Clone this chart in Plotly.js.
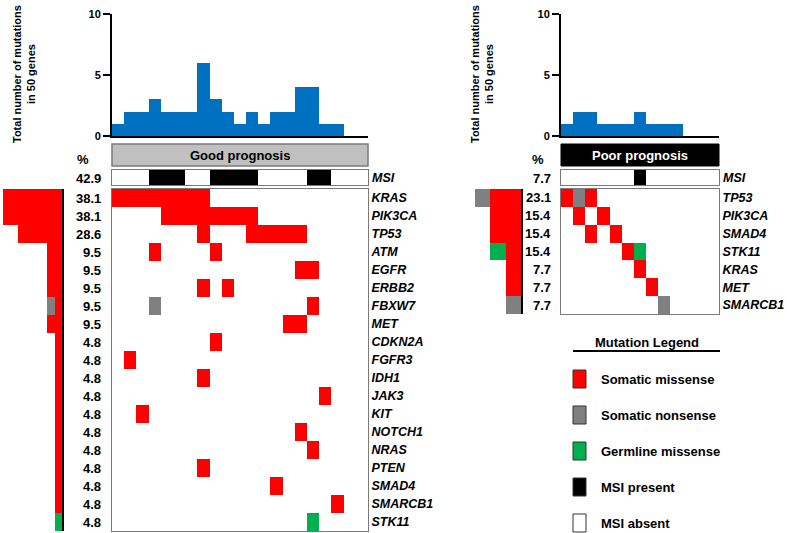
<!DOCTYPE html>
<html>
<head>
<meta charset="utf-8">
<script src="https://cdn.plot.ly/plotly-3.0.1.min.js"></script>
<style>html,body{margin:0;padding:0;background:#fff}</style>
</head>
<body>
<div id="myDiv" style="width:787px;height:533px"></div>
<script>
// ---- data: good prognosis (21 samples) ----
var goodGenes = ['KRAS', 'PIK3CA', 'TP53', 'ATM', 'EGFR', 'ERBB2', 'FBXW7', 'MET', 'CDKN2A', 'FGFR3',
  'IDH1', 'JAK3', 'KIT', 'NOTCH1', 'NRAS', 'PTEN', 'SMAD4', 'SMARCB1', 'STK11'];
var goodPct = [38.1, 38.1, 28.6, 9.5, 9.5, 9.5, 9.5, 9.5, 4.8, 4.8, 4.8, 4.8, 4.8, 4.8, 4.8, 4.8, 4.8, 4.8, 4.8];
// M = somatic missense, N = somatic nonsense, G = germline missense
var goodRows = [
  'MMMMMMMM.............',
  '....MMMMMMMM.........',
  '.......M...MMMMM.....',
  '...M....M............',
  '...............MM....',
  '.......M.M...........',
  '...N............M....',
  '..............MM.....',
  '........M............',
  '.M...................',
  '.......M.............',
  '.................M...',
  '..M..................',
  '...............M.....',
  '................M....',
  '.......M.............',
  '.............M.......',
  '..................M..',
  '................G....'
];
var goodMissense = [8, 8, 6, 2, 2, 2, 1, 2, 1, 1, 1, 1, 1, 1, 1, 1, 1, 1, 0];
var goodNonsense = [0, 0, 0, 0, 0, 0, 1, 0, 0, 0, 0, 0, 0, 0, 0, 0, 0, 0, 0];
var goodGermline = [0, 0, 0, 0, 0, 0, 0, 0, 0, 0, 0, 0, 0, 0, 0, 0, 0, 0, 1];
var goodTotals = [1, 2, 2, 3, 2, 2, 2, 6, 3, 2, 1, 2, 1, 2, 2, 4, 4, 1, 1, 0, 0];
var goodMsi = '...PPP..PPPP....PP...';
var goodMsiPct = 42.9;

// ---- data: poor prognosis (13 samples) ----
var poorGenes = ['TP53', 'PIK3CA', 'SMAD4', 'STK11', 'KRAS', 'MET', 'SMARCB1'];
var poorPct = [23.1, 15.4, 15.4, 15.4, 7.7, 7.7, 7.7];
var poorRows = [
  'MNM..........',
  '.M.M.........',
  '..M.M........',
  '.....MG......',
  '......M......',
  '.......M.....',
  '........N....'
];
var poorMissense = [2, 2, 2, 1, 1, 1, 0];
var poorNonsense = [1, 0, 0, 0, 0, 0, 1];
var poorGermline = [0, 0, 0, 1, 0, 0, 0];
var poorTotals = [1, 2, 2, 1, 1, 1, 2, 1, 1, 1, 0, 0, 0];
var poorMsi = '......P......';
var poorMsiPct = 7.7;

var legendLabels = ['Somatic missense', 'Somatic nonsense', 'Germline missense', 'MSI present', 'MSI absent'];
var legendColors = ['#ff0000', '#808080', '#00b050', '#000000', '#ffffff'];

// ---- helpers ----
var W = 787, H = 533;
var FONT = 'Liberation Sans, Arial, sans-serif';
function fx(px) { return px / W; }
function fy(py) { return 1 - py / H; }
function idx(n) { var a = []; for (var i = 0; i < n; i++) a.push(i); return a; }
function toZ(rows, map) {
  return rows.map(function (r) {
    return r.split('').map(function (c) { return map[c] === undefined ? null : map[c]; });
  });
}
var mutMap = {M: 1, N: 2, G: 3};
var mutScale = [[0, '#ff0000'], [0.33, '#ff0000'], [0.34, '#808080'], [0.66, '#808080'], [0.67, '#00b050'], [1, '#00b050']];

function panelTraces(rows, msi, totals, mis, non, germ, ax) {
  var n = totals.length, g = rows.length;
  return [
    {type: 'bar', x: idx(n), y: totals, width: 1, marker: {color: '#0070c0', line: {width: 0}},
      xaxis: ax.hx, yaxis: ax.hy, hoverinfo: 'skip'},
    {type: 'heatmap', x: idx(n), y: [0], z: toZ([msi], {P: 1}), zmin: 0, zmax: 1,
      colorscale: [[0, '#000'], [1, '#000']], showscale: false, xaxis: ax.sx, yaxis: ax.sy, hoverinfo: 'skip'},
    {type: 'heatmap', x: idx(n), y: idx(g), z: toZ(rows, mutMap), zmin: 1, zmax: 3,
      colorscale: mutScale, showscale: false, xaxis: ax.mx, yaxis: ax.my, hoverinfo: 'skip'},
    {type: 'bar', orientation: 'h', x: mis, y: idx(g), marker: {color: '#ff0000', line: {width: 0}},
      xaxis: ax.bx, yaxis: ax.by, hoverinfo: 'skip'},
    {type: 'bar', orientation: 'h', x: non, y: idx(g), marker: {color: '#808080', line: {width: 0}},
      xaxis: ax.bx, yaxis: ax.by, hoverinfo: 'skip'},
    {type: 'bar', orientation: 'h', x: germ, y: idx(g), marker: {color: '#00b050', line: {width: 0}},
      xaxis: ax.bx, yaxis: ax.by, hoverinfo: 'skip'}
  ];
}

var data = [].concat(
  panelTraces(goodRows, goodMsi, goodTotals, goodMissense, goodNonsense, goodGermline,
    {hx: 'x', hy: 'y', sx: 'x2', sy: 'y2', mx: 'x3', my: 'y3', bx: 'x4', by: 'y4'}),
  panelTraces(poorRows, poorMsi, poorTotals, poorMissense, poorNonsense, poorGermline,
    {hx: 'x5', hy: 'y5', sx: 'x6', sy: 'y6', mx: 'x7', my: 'y7', bx: 'x8', by: 'y8'})
);

var base = {showgrid: false, zeroline: false, fixedrange: true, ticks: '', showticklabels: false};
function ax(o) { return Object.assign({}, base, o); }
var box = {showline: true, mirror: true, linecolor: '#7a7a7a', linewidth: 1};
var histY = {range: [0, 10], showline: true, linecolor: '#000', linewidth: 2, ticks: 'outside', ticklen: 7,
  tickwidth: 2, tickcolor: '#000', tickvals: [0, 5, 10], showticklabels: true,
  tickfont: {family: FONT, size: 11, weight: 'bold', color: '#000'}};
var histX = {showline: true, linecolor: '#000', linewidth: 2};
var geneFont = {family: FONT, size: 12.5, weight: 'bold', style: 'italic', color: '#000'};

var layout = {
  width: W, height: H,
  margin: {l: 0, r: 0, t: 0, b: 0},
  paper_bgcolor: '#fff', plot_bgcolor: 'rgba(0,0,0,0)',
  showlegend: false,
  barmode: 'stack', bargap: 0,
  // good prognosis
  xaxis: ax(Object.assign({domain: [fx(112), fx(368)], range: [-0.5, 20.5], anchor: 'y'}, histX)),
  yaxis: ax(Object.assign({domain: [fy(136), fy(14)], anchor: 'x'}, histY)),
  xaxis2: ax(Object.assign({domain: [fx(112), fx(368)], range: [-0.5, 20.5], anchor: 'y2'}, box)),
  yaxis2: ax(Object.assign({domain: [fy(185), fy(170)], range: [-0.5, 0.5], anchor: 'x2'}, box)),
  xaxis3: ax(Object.assign({domain: [fx(112), fx(368)], range: [-0.5, 20.5], anchor: 'y3'}, box)),
  yaxis3: ax(Object.assign({domain: [fy(531), fy(189)], range: [18.5, -0.5], anchor: 'x3', side: 'right',
    tickvals: idx(goodGenes.length), ticktext: goodGenes, showticklabels: true, tickfont: geneFont}, box)),
  xaxis4: ax({domain: [0, fx(62)], range: [8.38, 0], anchor: 'y4', visible: false}),
  yaxis4: ax({domain: [fy(531), fy(189)], range: [18.5, -0.5], anchor: 'x4', side: 'right',
    showline: true, linecolor: '#000', linewidth: 2}),
  // poor prognosis
  xaxis5: ax(Object.assign({domain: [fx(561), fx(719)], range: [-0.5, 12.5], anchor: 'y5'}, histX)),
  yaxis5: ax(Object.assign({domain: [fy(136), fy(14)], anchor: 'x5'}, histY)),
  xaxis6: ax(Object.assign({domain: [fx(561), fx(719)], range: [-0.5, 12.5], anchor: 'y6'}, box)),
  yaxis6: ax(Object.assign({domain: [fy(185), fy(170)], range: [-0.5, 0.5], anchor: 'x6'}, box)),
  xaxis7: ax(Object.assign({domain: [fx(561), fx(719)], range: [-0.5, 12.5], anchor: 'y7'}, box)),
  yaxis7: ax(Object.assign({domain: [fy(314), fy(189)], range: [6.5, -0.5], anchor: 'x7', side: 'right',
    tickvals: idx(poorGenes.length), ticktext: poorGenes, showticklabels: true, tickfont: geneFont}, box)),
  xaxis8: ax({domain: [fx(470), fx(521)], range: [3.33, 0], anchor: 'y8', visible: false}),
  yaxis8: ax({domain: [fy(314), fy(189)], range: [6.5, -0.5], anchor: 'x8', side: 'right',
    showline: true, linecolor: '#000', linewidth: 2}),
  shapes: [],
  annotations: []
};

function note(text, x, y, o) {
  layout.annotations.push(Object.assign({
    text: text, x: fx(x), y: fy(y), xref: 'paper', yref: 'paper', showarrow: false,
    xanchor: 'center', yanchor: 'middle',
    font: {family: FONT, size: 13, weight: 'bold', color: '#000'}
  }, o || {}));
}
function rect(x0, y0, x1, y1, fill, line, lw) {
  layout.shapes.push({type: 'rect', xref: 'paper', yref: 'paper', x0: fx(x0), x1: fx(x1), y0: fy(y1), y1: fy(y0),
    fillcolor: fill, line: {color: line, width: lw}, layer: 'below'});
}

// percent labels, placed against each matrix row through its own y axis
goodPct.forEach(function (v, i) {
  layout.annotations.push({text: v.toFixed(1), x: fx(103), xref: 'paper', y: i, yref: 'y3',
    xanchor: 'right', yanchor: 'middle', showarrow: false,
    font: {family: FONT, size: 13, weight: 'bold', color: '#000'}});
});
poorPct.forEach(function (v, i) {
  layout.annotations.push({text: v.toFixed(1), x: fx(553), xref: 'paper', y: i, yref: 'y7',
    xanchor: 'right', yanchor: 'middle', showarrow: false,
    font: {family: FONT, size: 13, weight: 'bold', color: '#000'}});
});

// y-axis titles
var ytitle = 'Total number of mutations<br>in 50 genes';
note(ytitle, 24, 74, {textangle: -90, font: {family: FONT, size: 11, weight: 'bold', color: '#000'}});
note(ytitle, 482, 74, {textangle: -90, font: {family: FONT, size: 11, weight: 'bold', color: '#000'}});

// group headers
rect(112, 144, 368, 166, '#c0c0c0', '#7a7a7a', 1.5);
note('Good prognosis', 240, 155);
rect(561, 144, 719, 166, '#000000', '#000000', 1);
note('Poor prognosis', 640, 155, {font: {family: FONT, size: 13, weight: 'bold', color: '#fff'}});
note('%', 83, 159);
note('%', 538, 159);

// MSI row labels
note(goodMsiPct.toFixed(1), 103, 178, {xanchor: 'right'});
note('MSI', 370, 178, {xanchor: 'left', font: geneFont});
note(poorMsiPct.toFixed(1), 553, 178, {xanchor: 'right'});
note('MSI', 721, 178, {xanchor: 'left', font: geneFont});

// mutation legend
note('Mutation Legend', 647, 342);
layout.shapes.push({type: 'line', xref: 'paper', yref: 'paper', x0: fx(573), x1: fx(720), y0: fy(351), y1: fy(351),
  line: {color: '#000', width: 2}});
legendLabels.forEach(function (lab, i) {
  var cy = 379 + i * 36;
  layout.shapes.push({type: 'rect', xref: 'paper', yref: 'paper', x0: fx(573), x1: fx(586), y0: fy(cy + 9), y1: fy(cy - 9),
    fillcolor: legendColors[i], line: {color: '#333', width: 1}});
  note(lab, 599, cy, {xanchor: 'left'});
});

Plotly.newPlot('myDiv', data, layout, {displayModeBar: false, staticPlot: true});
</script>
</body>
</html>
